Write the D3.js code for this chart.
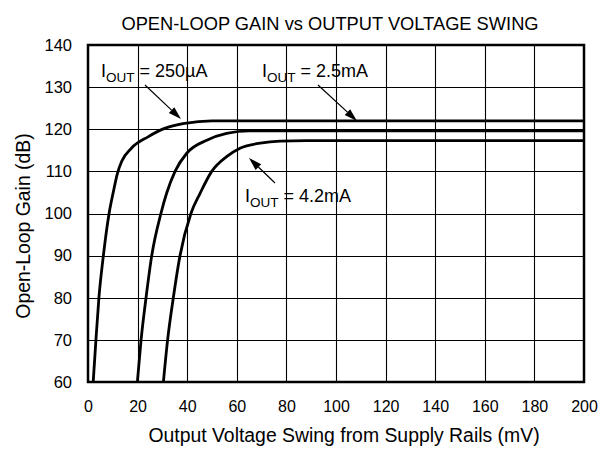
<!DOCTYPE html>
<html lang="en">
<head>
<meta charset="utf-8">
<title>Open-Loop Gain vs Output Voltage Swing</title>
<script src="https://d3js.org/d3.v7.min.js"></script>
<style>
  body { margin: 0; background: #fff; }
  text { font-family: "Liberation Sans", Arial, sans-serif; fill: #000; }
</style>
</head>
<body>
<script>
// values
var xTicks = [0, 20, 40, 60, 80, 100, 120, 140, 160, 180, 200];
var yTicks = [60, 70, 80, 90, 100, 110, 120, 130, 140];

var swing250uA = [2.1, 3.2, 4.4, 6.2, 8.5, 10.1, 11.9, 13.6, 17.5, 24.2, 30.9, 39, 50, 200];
var gain250uA  = [60, 70, 80, 90, 100, 104.8, 109.6, 112.4, 115.5, 118.2, 120.2, 121.4, 122, 122];

var swing2_5mA = [19.9, 21.4, 23.4, 25.7, 29.4, 31.7, 35.1, 39.8, 47.9, 55.9, 65, 200];
var gain2_5mA  = [60, 70, 80, 90, 100, 104.8, 110, 114.3, 117.4, 119.0, 119.6, 119.6];

var swing4_2mA = [30.4, 32.1, 34.4, 37.1, 41.5, 45.2, 49.9, 55.9, 61.3, 69.4, 77.4, 88, 200];
var gain4_2mA  = [60, 70, 80, 90, 100, 104.8, 110, 113.5, 115.5, 116.7, 117.2, 117.3, 117.3];

var w = 613, h = 450;
var plotL = 88, plotR = 584, plotT = 45, plotB = 382;

var svg = d3.select("body").append("svg")
  .attr("width", w)
  .attr("height", h);

var x = d3.scaleLinear().domain([0, 200]).range([plotL, plotR]);
var y = d3.scaleLinear().domain([60, 140]).range([plotB, plotT]);

// grid
svg.append("g")
  .selectAll("line")
  .data(xTicks.slice(1, -1))
  .enter().append("line")
    .attr("x1", d => Math.round(x(d)) + 0.5)
    .attr("x2", d => Math.round(x(d)) + 0.5)
    .attr("y1", plotT)
    .attr("y2", plotB)
    .attr("stroke", "#000")
    .attr("stroke-width", 1.1);

svg.append("g")
  .selectAll("line")
  .data(yTicks.slice(1, -1))
  .enter().append("line")
    .attr("y1", d => Math.round(y(d)) + 0.5)
    .attr("y2", d => Math.round(y(d)) + 0.5)
    .attr("x1", plotL)
    .attr("x2", plotR)
    .attr("stroke", "#000")
    .attr("stroke-width", 1.1);

// frame
svg.append("rect")
  .attr("x", plotL)
  .attr("y", plotT)
  .attr("width", plotR - plotL)
  .attr("height", plotB - plotT)
  .attr("fill", "none")
  .attr("stroke", "#000")
  .attr("stroke-width", 2.5);

// tick labels from d3 axes, lines hidden
var xAxis = svg.append("g")
  .attr("transform", "translate(0," + plotB + ")")
  .call(d3.axisBottom(x).tickValues(xTicks).tickSize(0).tickPadding(19));
xAxis.select(".domain").remove();
xAxis.selectAll("text").style("font-size", "16px").style("font-family", "Liberation Sans, Arial, sans-serif");

var yAxis = svg.append("g")
  .attr("transform", "translate(" + plotL + ",0)")
  .call(d3.axisLeft(y).tickValues(yTicks).tickSize(0).tickPadding(16));
yAxis.select(".domain").remove();
yAxis.selectAll("text").style("font-size", "16.5px").style("font-family", "Liberation Sans, Arial, sans-serif");

// curves
var line = d3.line()
  .x(d => x(d[0]))
  .y(d => y(d[1]))
  .curve(d3.curveMonotoneX);

var series = [
  [swing250uA, gain250uA],
  [swing2_5mA, gain2_5mA],
  [swing4_2mA, gain4_2mA]
];

svg.append("g")
  .selectAll("path")
  .data(series)
  .enter().append("path")
    .attr("d", s => line(d3.zip(s[0], s[1])))
    .attr("fill", "none")
    .attr("stroke", "#000")
    .attr("stroke-width", 2.8);

// titles
svg.append("text")
  .attr("x", 330)
  .attr("y", 30)
  .attr("text-anchor", "middle")
  .style("font-size", "18.3px")
  .text("OPEN-LOOP GAIN vs OUTPUT VOLTAGE SWING");

svg.append("text")
  .attr("x", 344)
  .attr("y", 442)
  .attr("text-anchor", "middle")
  .style("font-size", "19.4px")
  .text("Output Voltage Swing from Supply Rails (mV)");

svg.append("text")
  .attr("transform", "translate(30,226) rotate(-90)")
  .attr("text-anchor", "middle")
  .style("font-size", "19.4px")
  .text("Open-Loop Gain (dB)");

// annotations
function label(px, py, value) {
  var t = svg.append("text")
    .attr("x", px)
    .attr("y", py)
    .style("font-size", "18px");
  t.append("tspan").text("I");
  t.append("tspan").attr("dy", 5).style("font-size", "13.5px").text("OUT");
  t.append("tspan").attr("dy", -5).text(" = " + value);
}
label(101, 77, "250\u00b5A");
label(262, 77, "2.5mA");
label(245, 202, "4.2mA");

function arrow(x1, y1, x2, y2) {
  var ang = Math.atan2(y2 - y1, x2 - x1);
  var len = 13, half = 4;
  var bx = x2 - len * Math.cos(ang), by = y2 - len * Math.sin(ang);
  svg.append("line")
    .attr("x1", x1).attr("y1", y1)
    .attr("x2", bx).attr("y2", by)
    .attr("stroke", "#000")
    .attr("stroke-width", 1.2);
  var nx = -Math.sin(ang) * half, ny = Math.cos(ang) * half;
  svg.append("path")
    .attr("d", "M" + x2 + "," + y2 + "L" + (bx + nx) + "," + (by + ny) + "L" + (bx - nx) + "," + (by - ny) + "Z")
    .attr("fill", "#000");
}
arrow(145, 85, 181, 119);
arrow(318, 85, 357, 121);
arrow(275, 183, 249, 158);
</script>
</body>
</html>
